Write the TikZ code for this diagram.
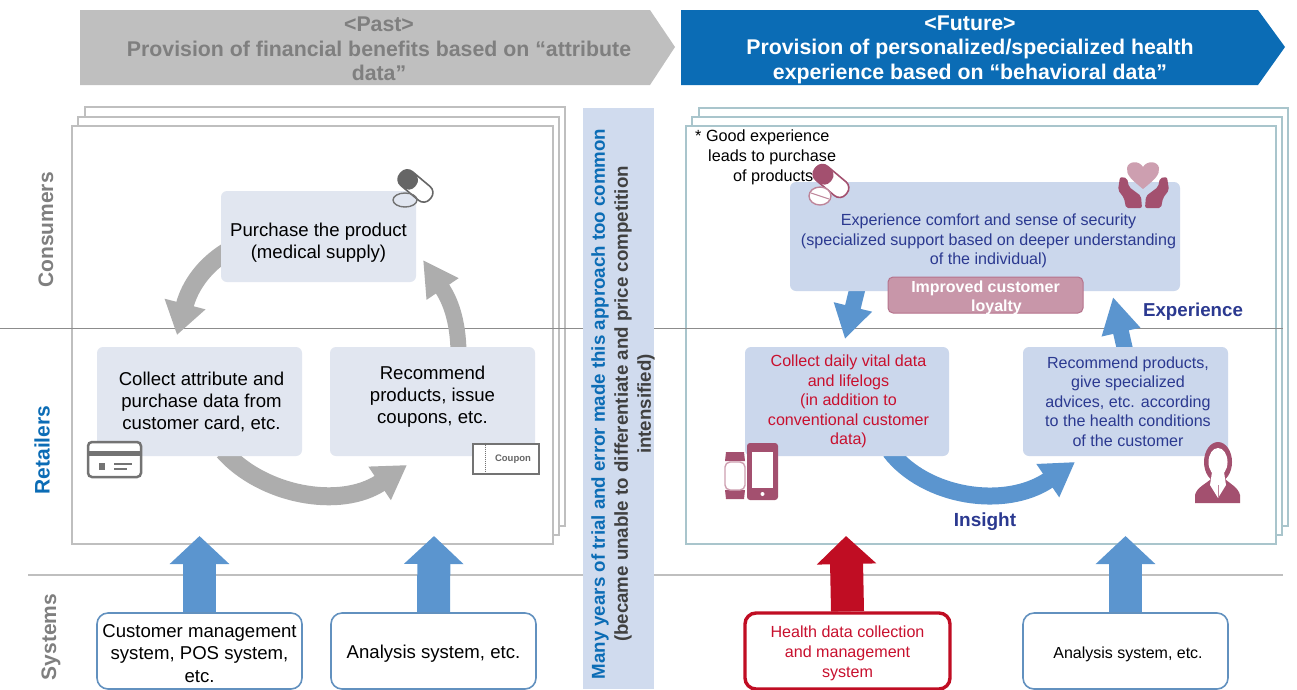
\documentclass[tikz,border=0pt]{standalone}
\usepackage{fontspec}
\setmainfont{Liberation Sans}
\usetikzlibrary{arrows.meta}
\pgfdeclarelayer{sheets}
\pgfdeclarelayer{flows}
\pgfsetlayers{sheets,flows,main}
\definecolor{pastgray}{HTML}{BFBFBF}
\definecolor{labelgray}{HTML}{7F7F7F}
\definecolor{futureblue}{HTML}{0B6CB5}
\definecolor{flowblue}{HTML}{5B95CF}
\definecolor{flowgray}{HTML}{ADADAD}
\definecolor{flowred}{HTML}{C00D23}
\definecolor{palebox}{HTML}{E1E6F0}
\definecolor{bluebox}{HTML}{CBD7EC}
\definecolor{inkblue}{HTML}{2B3990}
\definecolor{inkred}{HTML}{C8102E}
\definecolor{plum}{HTML}{A3506F}
\definecolor{sheetedge}{HTML}{A9C5CC}
\begin{document}
\begin{tikzpicture}[x=1pt,y=-1pt,
softnode/.style={rectangle, rounded corners=6pt, fill=palebox, align=center, font=\fontsize{18.6}{22}\selectfont},
bluenode/.style={rectangle, rounded corners=6pt, fill=bluebox, align=center, text=inkblue, font=\fontsize{16.1}{19.5}\selectfont},
sysnode/.style={rectangle, rounded corners=11pt, draw=flowblue!80!gray, line width=1.6pt, fill=white, align=center, minimum height=76pt, font=\fontsize{18.6}{22.5}\selectfont},
sidelabel/.style={rotate=90, font=\bfseries\fontsize{21}{24}\selectfont},
headtext/.style={align=center, font=\bfseries\fontsize{21.3}{24.4}\selectfont},
sheet/.style={rectangle, draw=#1, line width=1.1pt, fill=white},
blockup/.style={line width=33pt, -{Triangle[length=28pt,width=58pt]}},
grayflow/.style={draw=flowgray, line width=18pt},
blueflow/.style={draw=flowblue, line width=17pt}
]
\useasboundingbox (0,0) rectangle (1297,689);

%Sheets
\begin{pgfonlayer}{sheets}
\draw[sheet=pastgray] (85,107) rectangle (565,526);
\draw[sheet=pastgray] (78,117) rectangle (559,535);
\draw[sheet=pastgray] (72,126) rectangle (553,544);
\draw[sheet=sheetedge] (699,108) rectangle (1288,526);
\draw[sheet=sheetedge] (692,117) rectangle (1282,535);
\draw[sheet=sheetedge] (686,126) rectangle (1276,544);
\coordinate (topleft) at (0,328);
\coordinate (topright) at (1283,328);
\coordinate (lowleft) at (28,575);
\coordinate (lowright) at (1283,575);
\draw[labelgray!90, line width=1pt] (topleft) -- (topright);
\draw[pastgray, line width=1.2pt] (lowleft) -- (lowright);
\end{pgfonlayer}

%Headers
\fill[pastgray] (80,10) -- (650,10) -- (675,47) -- (650,85) -- (80,85) -- cycle;
\fill[futureblue] (681,10) -- (1258,10) -- (1285,47) -- (1258,85) -- (681,85) -- cycle;
\node[headtext, text=labelgray] (pasthead) at (379,49) {<Past>\\Provision of financial benefits based on “attribute\\data”};
\node[headtext, text=white] (futurehead) at (970,49.5) {<Future>\\Provision of personalized/specialized health\\experience based on “behavioral data”};

%Side labels
\node[sidelabel, text=labelgray] (consumers) at (46,230) {Consumers};
\node[sidelabel, text=futureblue] (retailers) at (42,450) {Retailers};
\node[sidelabel, text=labelgray] (systems) at (51,637) {Systems};

%Middle band
\node[rectangle, fill=bluebox!90!white, minimum width=71pt, minimum height=581pt] (band) at (618.5,398.5) {};
\node[rotate=90, align=center, font=\bfseries\fontsize{18.7}{23}\selectfont, text=black!75] (bandtext) at (623,404) {\textcolor{futureblue}{Many years of trial and error made this approach too common}\\(became unable to differentiate and price competition\\intensified)};

%Past boxes
\node[softnode, minimum width=195pt, minimum height=91pt] (purchase) at (318.5,236.5) {\mbox{}\\[3.5pt]Purchase the product\\(medical supply)};
\node[softnode, minimum width=205pt, minimum height=109pt] (collect) at (199.5,401.5) {\mbox{}\\[-8.5pt]\hspace*{4pt}Collect attribute and\\\hspace*{4pt}purchase data from\\\hspace*{4pt}customer card, etc.};
\node[softnode, minimum width=205pt, minimum height=109pt] (recommend) at (432.5,401.5) {Recommend\\products, issue\\coupons, etc.\\[-8pt]\mbox{}};
\node[sysnode, minimum width=205pt] (custsys) at (199.5,651) {\mbox{}\\[-5pt]Customer management\\system, POS system,\\etc.};
\node[sysnode, minimum width=205pt] (analysis) at (433.5,651) {\mbox{}\\[-3pt]Analysis system, etc.};

%Future boxes
\node[bluenode, minimum width=390pt, minimum height=109pt] (experience) at (985,236.5) {\mbox{}\\[1.2pt]\hspace*{7pt}Experience comfort and sense of security\\\hspace*{7pt}(specialized support based on deeper understanding\\\hspace*{7pt}of the individual)};
\node[rectangle, rounded corners=5pt, fill=plum!60!white, draw=plum!80!white, line width=1pt, minimum width=195pt, minimum height=36pt] (loyalty) at (985.5,295) {};
\node[align=center, text=white, font=\bfseries\fontsize{16}{19}\selectfont] (loyaltytext) at (985.5,297.5) {Improved customer\\\hspace*{22pt}loyalty};
\node[bluenode, minimum width=204pt, minimum height=109pt, text=inkred] (vital) at (847,401.5) {\hspace*{3pt}Collect daily vital data\\\hspace*{3pt}and lifelogs\\\hspace*{3pt}(in addition to\\\hspace*{3pt}conventional customer\\\hspace*{3pt}data)};
\node[bluenode, minimum width=205pt, minimum height=109pt] (advice) at (1125.5,401.5) {\hspace*{5pt}Recommend products,\\\hspace*{5pt}give specialized\\\hspace*{5pt}advices, etc. according\\\hspace*{5pt}to the health conditions\\\hspace*{5pt}of the customer};
\node[sysnode, minimum width=205pt, draw=flowred, line width=3.4pt, text=inkred, font=\fontsize{16.1}{20}\selectfont] (healthsys) at (847.5,651) {\mbox{}\\[-4.3pt]Health data collection\\and management\\system};
\node[sysnode, minimum width=205pt, font=\fontsize{16}{20}\selectfont] (analysisright) at (1125.5,651) {\mbox{}\\[-1.3pt]\hspace*{5pt}Analysis system, etc.};

%Notes
\node[align=left, anchor=north west, inner sep=0pt, font=\fontsize{16.2}{20}\selectfont] (note) at (695,130) {* Good experience\\\hspace*{13pt}leads to purchase\\\hspace*{38pt}of products};
\node[text=inkblue, font=\bfseries\fontsize{18.7}{20}\selectfont] (experiencelabel) at (1193,312) {Experience};
\node[text=inkblue, font=\bfseries\fontsize{19}{20}\selectfont] (insightlabel) at (985,522) {Insight};

%Flows
\coordinate (collecttip) at (177,335);
\coordinate (purchasetip) at (423,260);
\coordinate (recommendtip) at (407,465);
\coordinate (vitaltip) at (845,339);
\coordinate (experiencetip) at (1113,297);
\coordinate (advicetip) at (1075,462);
\coordinate (custtip) at (199.5,536);
\coordinate (analysistip) at (434,536);
\coordinate (healthtip) at (846,536);
\coordinate (analysisrighttip) at (1125.5,536);
\begin{pgfonlayer}{flows}
\draw[grayflow, -{Triangle[length=32pt,width=40pt]}] ([shift={(6,15)}]purchase.west) .. controls (205,265) and (190,285) .. (collecttip);
\draw[grayflow, line width=16pt, -{Triangle[length=35pt,width=36pt]}] ([shift={(26,5)}]recommend.north) .. controls (458,320) and (450,300) .. (purchasetip);
\draw[grayflow, -{Triangle[length=33pt,width=38pt]}] ([shift={(24,-5)}]collect.south) .. controls (262,495) and (340,510) .. (recommendtip);
\draw[blueflow, line width=16pt, -{Triangle[length=33pt,width=37pt]}] ([shift={(-127,-5)}]experience.south) -- (vitaltip);
\draw[blueflow, line width=16pt, -{Triangle[length=36pt,width=37pt]}] ([yshift=-5pt]advice.north) -- (experiencetip);
\draw[blueflow, -{Triangle[length=33pt,width=38pt]}] ([shift={(43,-5)}]vital.south) .. controls (925,497) and (1005,510) .. (advicetip);
\end{pgfonlayer}
\draw[flowblue, blockup] (custsys.north) -- (custtip);
\draw[flowblue, blockup] (analysis.north) -- (analysistip);
\draw[flowred, blockup] (healthsys.north) -- (healthtip);
\draw[flowblue, blockup] (analysisright.north) -- (analysisrighttip);

%Icons, left
\begin{scope}[rotate around={-40:(415.5,186)}]
\draw[black!60, line width=1.6pt, fill=white, rounded corners=8pt] (396,177) rectangle (435,195);
\fill[black!60, rounded corners=8pt] (396,177) rectangle (415.5,195);
\end{scope}
\draw[black!55, line width=1.4pt] (405,200) ellipse (12 and 7);
\draw[black!55, line width=2.5pt, rounded corners=4pt, fill=white] (88,442) rectangle (141,477);
\fill[black!55] (88,451) rectangle (141,456);
\fill[black!55] (99,463) rectangle (105,470);
\draw[black!55, line width=1.5pt] (114,464) -- (132,464) (114,469) -- (127,469);
\node[rectangle, draw=black!55, line width=2pt, fill=white, minimum width=66pt, minimum height=30pt, font=\bfseries\fontsize{9.5}{11}\selectfont, text=black!60, text depth=0pt, align=right, inner xsep=3pt] (coupon) at (505.5,458.5) {\hspace*{15pt}Coupon};
\draw[black!55, densely dotted, line width=1pt] (coupon.north west) ++(14,0) -- ++(0,30);

%Icons, right
\begin{scope}[rotate around={-40:(831,181)}]
\draw[plum, line width=1.6pt, fill=white, rounded corners=8pt] (811,172) rectangle (851,190);
\fill[plum, rounded corners=8pt] (811,172) rectangle (831,190);
\end{scope}
\draw[plum!70!white, line width=1.4pt, fill=white] (820,196) ellipse (11 and 9);
\draw[plum!70!white, line width=1pt] (811,193) -- (829,199);
\fill[plum!55!white] (1143,189) .. controls (1132,180) and (1126,175) .. (1127,168) .. controls (1128,161) and (1139,160) .. (1143,167) .. controls (1147,160) and (1158,161) .. (1159,168) .. controls (1160,175) and (1154,180) .. (1143,189) -- cycle;
\fill[plum, rounded corners=2pt] (1120,177) -- (1127,178) -- (1129,187) -- (1141,196) -- (1142,208) -- (1126,208) -- (1124,198) -- (1118,190) -- cycle;
\fill[plum, rounded corners=2pt] (1167,177) -- (1160,178) -- (1158,187) -- (1146,196) -- (1145,208) -- (1161,208) -- (1163,198) -- (1169,190) -- cycle;
\fill[plum, rounded corners=3pt] (747,443) rectangle (778,500);
\fill[white] (752,452) rectangle (773,488);
\fill[white] (762.5,494) circle (2);
\fill[plum] (726,452) -- (744,452) -- (745,461) -- (725,461) -- cycle;
\fill[plum] (725,490) -- (745,490) -- (744,499) -- (726,499) -- cycle;
\draw[plum!55!white, line width=1.4pt, fill=white, rounded corners=5pt] (725,462) rectangle (745,490);
\fill[plum] (1218,462) ellipse (14 and 20);
\fill[plum] (1195,503) -- (1195,495) .. controls (1197,487) and (1206,484) .. (1212,478) -- (1224,478) .. controls (1230,484) and (1238,487) .. (1240,495) -- (1240,503) -- cycle;
\fill[white] (1218,462) ellipse (9.5 and 14);
\fill[white] (1212,472) -- (1224,472) -- (1226,485) -- (1218,498) -- (1210,485) -- cycle;
\draw[plum!70!white, line width=1pt] (1218,485) -- (1218,497);
\end{tikzpicture}
\end{document}
